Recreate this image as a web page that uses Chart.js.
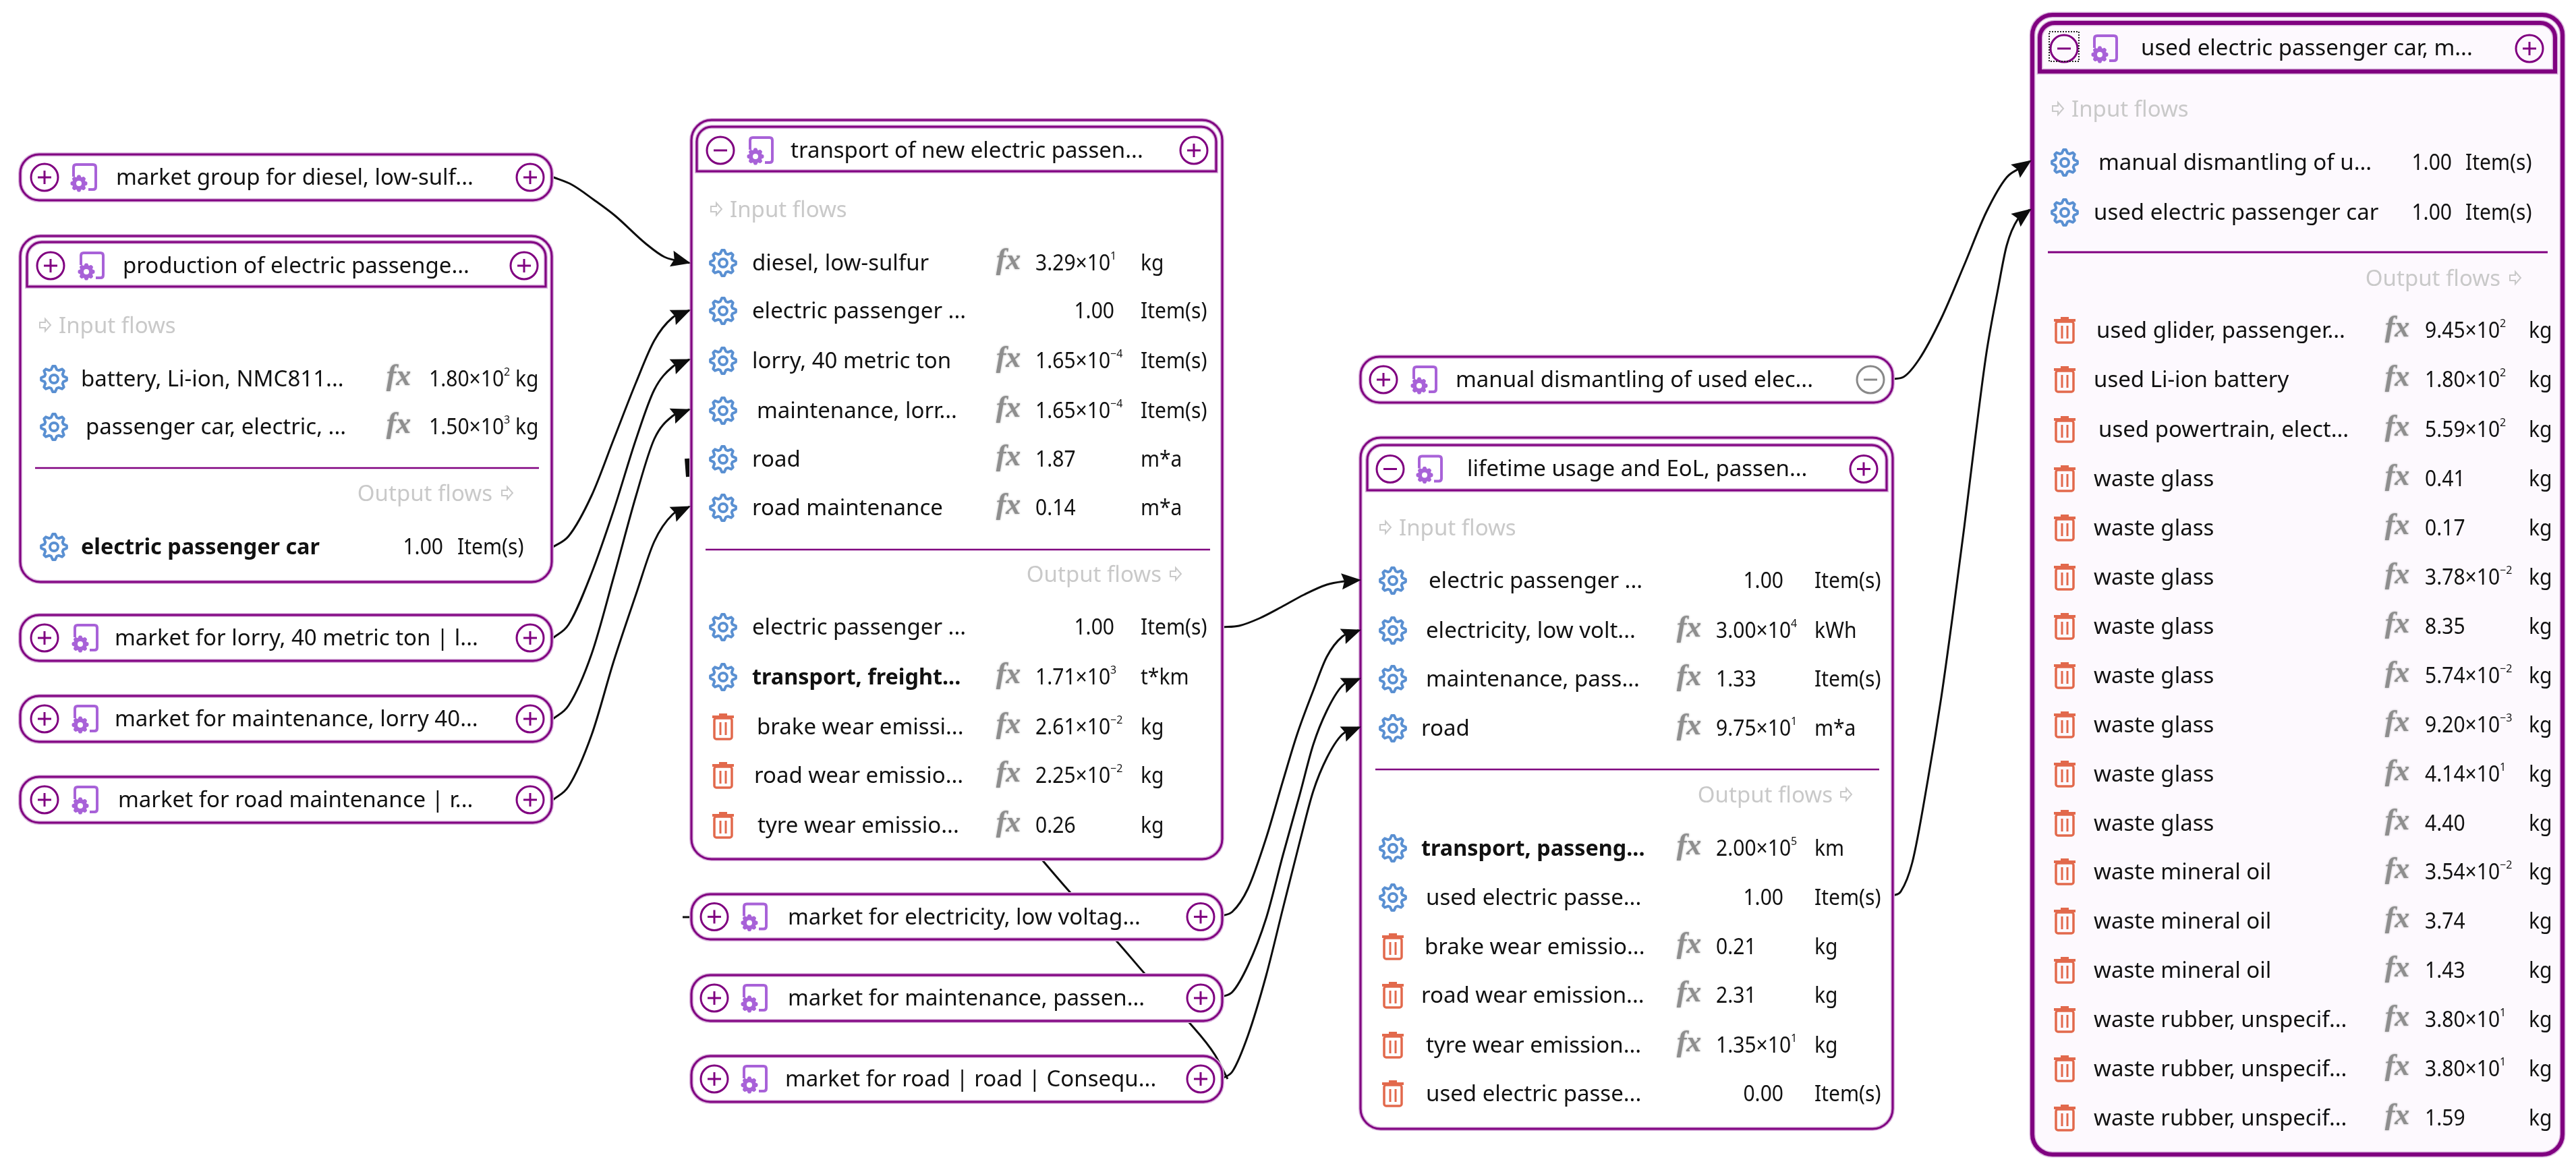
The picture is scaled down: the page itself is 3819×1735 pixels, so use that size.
<!DOCTYPE html>
<html>
<head>
<meta charset="utf-8">
<title>Process graph</title>
<style>
html, body { margin: 0; background: #fff; }
canvas { display: block; }
</style>
<script src="https://cdn.jsdelivr.net/npm/chart.js@4/dist/chart.umd.min.js"></script>
</head>
<body>
<canvas id="graph" width="3819" height="1735"></canvas>
<script>
// collapsed nodes
var marketNames = [
    "market group for diesel, low-sulf...",
    "market for lorry, 40 metric ton | l...",
    "market for maintenance, lorry 40...",
    "market for road maintenance | r...",
    "market for electricity, low voltag...",
    "market for maintenance, passen...",
    "market for road | road | Consequ...",
    "manual dismantling of used elec..."
];

// production of electric passenger car
var productionTitle = "production of electric passenge...";
var productionIn = ["battery, Li-ion, NMC811...", "passenger car, electric, ..."];
var productionInValues = ["1.80×10^2", "1.50×10^3"];
var productionInUnits = ["kg", "kg"];
var productionInFx = [1, 1];
var productionOut = ["electric passenger car"];
var productionOutValues = ["1.00"];
var productionOutUnits = ["Item(s)"];
var productionOutFx = [0];
var productionOutKind = ["main"];

// transport of new electric passenger car
var transportTitle = "transport of new electric passen...";
var transportIn = ["diesel, low-sulfur", "electric passenger ...", "lorry, 40 metric ton", "maintenance, lorr...", "road", "road maintenance"];
var transportInValues = ["3.29×10^1", "1.00", "1.65×10^−4", "1.65×10^−4", "1.87", "0.14"];
var transportInUnits = ["kg", "Item(s)", "Item(s)", "Item(s)", "m*a", "m*a"];
var transportInFx = [1, 0, 1, 1, 1, 1];
var transportOut = ["electric passenger ...", "transport, freight...", "brake wear emissi...", "road wear emissio...", "tyre wear emissio..."];
var transportOutValues = ["1.00", "1.71×10^3", "2.61×10^−2", "2.25×10^−2", "0.26"];
var transportOutUnits = ["Item(s)", "t*km", "kg", "kg", "kg"];
var transportOutFx = [0, 1, 1, 1, 1];
var transportOutKind = ["flow", "main", "waste", "waste", "waste"];

// lifetime usage and EoL
var lifetimeTitle = "lifetime usage and EoL, passen...";
var lifetimeIn = ["electric passenger ...", "electricity, low volt...", "maintenance, pass...", "road"];
var lifetimeInValues = ["1.00", "3.00×10^4", "1.33", "9.75×10^1"];
var lifetimeInUnits = ["Item(s)", "kWh", "Item(s)", "m*a"];
var lifetimeInFx = [0, 1, 1, 1];
var lifetimeOut = ["transport, passeng...", "used electric passe...", "brake wear emissio...", "road wear emission...", "tyre wear emission...", "used electric passe..."];
var lifetimeOutValues = ["2.00×10^5", "1.00", "0.21", "2.31", "1.35×10^1", "0.00"];
var lifetimeOutUnits = ["km", "Item(s)", "kg", "kg", "kg", "Item(s)"];
var lifetimeOutFx = [1, 0, 1, 1, 1, 0];
var lifetimeOutKind = ["main", "flow", "waste", "waste", "waste", "waste"];

// used electric passenger car
var usedTitle = "used electric passenger car, m...";
var usedIn = ["manual dismantling of u...", "used electric passenger car"];
var usedInValues = ["1.00", "1.00"];
var usedInUnits = ["Item(s)", "Item(s)"];
var usedInFx = [0, 0];
var usedOut = ["used glider, passenger...", "used Li-ion battery", "used powertrain, elect...", "waste glass", "waste glass", "waste glass", "waste glass", "waste glass", "waste glass", "waste glass", "waste glass", "waste mineral oil", "waste mineral oil", "waste mineral oil", "waste rubber, unspecif...", "waste rubber, unspecif...", "waste rubber, unspecif..."];
var usedOutValues = ["9.45×10^2", "1.80×10^2", "5.59×10^2", "0.41", "0.17", "3.78×10^−2", "8.35", "5.74×10^−2", "9.20×10^−3", "4.14×10^1", "4.40", "3.54×10^−2", "3.74", "1.43", "3.80×10^1", "3.80×10^1", "1.59"];
var usedOutUnits = ["kg", "kg", "kg", "kg", "kg", "kg", "kg", "kg", "kg", "kg", "kg", "kg", "kg", "kg", "kg", "kg", "kg"];
var usedOutFx = [1, 1, 1, 1, 1, 1, 1, 1, 1, 1, 1, 1, 1, 1, 1, 1, 1];
var usedOutKind = ["waste", "waste", "waste", "waste", "waste", "waste", "waste", "waste", "waste", "waste", "waste", "waste", "waste", "waste", "waste", "waste", "waste"];

// links in graph units
var linkDiesel = [[818,262],[848,274],[880,296],[912,320],[957,361],[985,381],[1023,390]];
var linkProduction = [[820,811],[843,795],[877,735],[910,651],[943,567],[970,505],[997,471],[1023,460]];
var linkLorry = [[820,946],[843,926],[877,850],[910,756],[943,651],[970,578],[997,544],[1023,533]];
var linkLorryMaint = [[820,1066],[843,1046],[877,970],[910,855],[943,735],[970,651],[997,617],[1023,607]];
var linkRoadMaint = [[820,1186],[843,1166],[877,1090],[910,980],[943,881],[970,803],[997,763],[1023,751]];
var linkTransport = [[1812,930],[1837,928],[1867,917],[1900,900],[1933,882],[1967,867],[1993,862],[2017,860]];
var linkElectricity = [[1812,1358],[1827,1352],[1850,1318],[1877,1243],[1902,1158],[1923,1089],[1947,1024],[1967,974],[1990,944],[2017,934]];
var linkCarMaint = [[1812,1478],[1827,1471],[1850,1432],[1877,1362],[1902,1268],[1927,1178],[1947,1104],[1967,1054],[1990,1017],[2017,1006]];
var linkRoad = [[1812,1599],[1827,1589],[1850,1536],[1877,1447],[1902,1347],[1927,1248],[1947,1173],[1967,1124],[1990,1089],[2017,1078]];
var linkManual = [[2807,562],[2822,559],[2845,533],[2878,472],[2912,393],[2945,314],[2975,263],[2995,249],[3011,238]];
var linkUsed = [[2807,1328],[2818,1322],[2835,1279],[2858,1157],[2878,1034],[2895,912],[2912,782],[2928,652],[2945,523],[2962,429],[2975,364],[2992,324],[3011,310]];
var linkHidden = [[1500,1222],[1544,1274],[1589,1326],[1653,1393],[1699,1446],[1761,1514],[1801,1564],[1820,1600]];
var linkStub = [[1012,1360],[1030,1360]];
var linkBlob = [[1019,680],[1021,707]];

var arrowLinks = [linkDiesel, linkProduction, linkLorry, linkLorryMaint, linkRoadMaint, linkTransport, linkElectricity, linkCarMaint, linkRoad, linkManual, linkUsed];
var plainLinks = [linkHidden, linkStub];

// layout of the collapsed nodes: left, top, right, bottom, text x, left knob, right knob, icon
var marketBoxes = [
    [30, 229, 818, 297, 172, 66, 786, 124],
    [30, 912, 818, 980, 170, 66, 786, 126],
    [30, 1032, 818, 1100, 170, 66, 786, 126],
    [30, 1152, 818, 1220, 175, 66, 786, 126],
    [1025, 1326, 1812, 1393, 1168, 1059, 1780, 1118],
    [1025, 1446, 1812, 1514, 1168, 1059, 1780, 1118],
    [1025, 1566, 1812, 1634, 1164, 1059, 1780, 1118],
    [2017, 529, 2806, 597, 2158, 2051, 2773, 2111]
];

var panels = [
    {
        title: productionTitle, box: [30, 350, 818, 863], head: [40, 359, 809, 425], lw: 3,
        knobL: 75, knobR: 777, minus: false, icon: 135, titleX: 182, titleY: 393,
        inHead: [67, 87, 482], outHead: [730, 752, 731], divider: [52, 799, 694],
        symbolX: 80, fxX: 591, valueX: 636, plainEnd: 657, unitX: 764, plainUnit: 678,
        inY: [562, 633], inX: [120, 127], outY: [811], outX: [120],
        names: [productionIn, productionOut], values: [productionInValues, productionOutValues],
        units: [productionInUnits, productionOutUnits], fx: [productionInFx, productionOutFx], kinds: [null, productionOutKind]
    },
    {
        title: transportTitle, box: [1025, 178, 1812, 1274], head: [1033, 188, 1803, 254], lw: 3,
        knobL: 1068, knobR: 1770, minus: true, icon: 1127, titleX: 1172, titleY: 222,
        inHead: [1062, 1082, 310], outHead: [1722, 1743, 851], divider: [1046, 1794, 815],
        symbolX: 1072, fxX: 1495, valueX: 1535, plainEnd: 1652, unitX: 1691, plainUnit: 1691,
        inY: [390, 461, 535, 609, 681, 753], inX: [1115, 1115, 1115, 1122, 1115, 1115],
        outY: [930, 1004, 1078, 1150, 1224], outX: [1115, 1115, 1122, 1118, 1123],
        names: [transportIn, transportOut], values: [transportInValues, transportOutValues],
        units: [transportInUnits, transportOutUnits], fx: [transportInFx, transportOutFx], kinds: [null, transportOutKind]
    },
    {
        title: lifetimeTitle, box: [2017, 649, 2806, 1674], head: [2027, 660, 2797, 727], lw: 3,
        knobL: 2061, knobR: 2763, minus: true, icon: 2119, titleX: 2175, titleY: 694,
        inHead: [2054, 2074, 782], outHead: [2717, 2737, 1178], divider: [2039, 2786, 1141],
        symbolX: 2065, fxX: 2504, valueX: 2544, plainEnd: 2644, unitX: 2690, plainUnit: 2690,
        inY: [861, 935, 1007, 1080], inX: [2118, 2114, 2114, 2107],
        outY: [1258, 1331, 1404, 1476, 1550, 1622], outX: [2107, 2114, 2112, 2107, 2114, 2114],
        names: [lifetimeIn, lifetimeOut], values: [lifetimeInValues, lifetimeOutValues],
        units: [lifetimeInUnits, lifetimeOutUnits], fx: [lifetimeInFx, lifetimeOutFx], kinds: [null, lifetimeOutKind]
    },
    {
        title: usedTitle, box: [3013, 22, 3799, 1712], head: [3024, 34, 3788, 106], lw: 6, fill: "#fdf9fe", focus: [3038, 47, 3082, 91],
        knobL: 3060, knobR: 3750, minus: true, icon: 3120, titleX: 3174, titleY: 70,
        inHead: [3051, 3071, 161], outHead: [3707, 3729, 412], divider: [3036, 3777, 374],
        symbolX: 3061, fxX: 3554, valueX: 3595, plainEnd: 3635, unitX: 3749, plainUnit: 3655,
        inY: [241, 315], inX: [3111, 3104],
        outY: [490, 563, 637, 710, 783, 856, 929, 1002, 1075, 1148, 1221, 1293, 1366, 1439, 1512, 1585, 1658],
        outX: [3108, 3104, 3111, 3104, 3104, 3104, 3104, 3104, 3104, 3104, 3104, 3104, 3104, 3104, 3104, 3104, 3104],
        names: [usedIn, usedOut], values: [usedInValues, usedOutValues],
        units: [usedInUnits, usedOutUnits], fx: [usedInFx, usedOutFx], kinds: [null, usedOutKind]
    }
];

var PURPLE = "#800080";
var HALO = "#d8b4dc";
var ICON_PURPLE = "#a862d8";
var GEAR_BLUE = "#5a90d2";
var TRASH_RED = "#e2694c";
var TEXT = "#111111";
var HEAD_GREY = "#c9c9c9";
var FONT = '"Noto Sans"';
var FONT_SIZE = 33;
var TEXT_DY = 3;
var NUM_SQUEEZE = 0.91;
var BOLD_SQUEEZE = 0.98;

function toPoints(link) {
    return link.map(function (p) { return {x: p[0], y: p[1]}; });
}

function linkDataset(link, width) {
    return {
        data: toPoints(link),
        borderColor: "#0d0d0d",
        borderWidth: width,
        pointRadius: 0,
        cubicInterpolationMode: "monotone",
        fill: false
    };
}

var datasets = arrowLinks.concat(plainLinks).map(function (l) { return linkDataset(l, 3); });
datasets.push(linkDataset(linkBlob, 8));

function drawArrowHeads(chart) {
    var ctx = chart.ctx, sx = chart.scales.x, sy = chart.scales.y;
    ctx.fillStyle = "#0d0d0d";
    arrowLinks.forEach(function (link) {
        var a = link[link.length - 2], b = link[link.length - 1];
        var ang = Math.atan2(sy.getPixelForValue(b[1]) - sy.getPixelForValue(a[1]), sx.getPixelForValue(b[0]) - sx.getPixelForValue(a[0]));
        ctx.save();
        ctx.translate(sx.getPixelForValue(b[0]), sy.getPixelForValue(b[1]));
        ctx.rotate(ang);
        ctx.beginPath();
        ctx.moveTo(1, 0);
        ctx.lineTo(-28, -12);
        ctx.lineTo(-24, 0);
        ctx.lineTo(-28, 12);
        ctx.closePath();
        ctx.fill();
        ctx.restore();
    });
}

function strokeShape(ctx, lw, pathFn, fill) {
    pathFn();
    if (fill) { ctx.fillStyle = fill; ctx.fill(); }
    ctx.strokeStyle = HALO;
    ctx.lineWidth = lw + 3;
    ctx.stroke();
    ctx.strokeStyle = PURPLE;
    ctx.lineWidth = lw;
    ctx.stroke();
}

function drawKnob(ctx, x, y, minus, color) {
    ctx.strokeStyle = color;
    ctx.lineWidth = 3;
    ctx.beginPath();
    ctx.arc(x, y, 20, 0, Math.PI * 2);
    ctx.stroke();
    ctx.beginPath();
    ctx.moveTo(x - 10, y);
    ctx.lineTo(x + 10, y);
    if (!minus) {
        ctx.moveTo(x, y - 10);
        ctx.lineTo(x, y + 10);
    }
    ctx.stroke();
}

function gearPath(ctx, x, y, r) {
    var teeth = 8;
    ctx.beginPath();
    for (var i = 0; i < teeth * 4; i++) {
        var a = i / (teeth * 4) * Math.PI * 2 - Math.PI / 2 - Math.PI / (teeth * 4) * 1;
        var rr = (i % 4 === 0 || i % 4 === 1) ? r : r * 0.76;
        var px = x + Math.cos(a) * rr, py = y + Math.sin(a) * rr;
        if (i === 0) ctx.moveTo(px, py); else ctx.lineTo(px, py);
    }
    ctx.closePath();
}

function drawGear(ctx, x, y) {
    ctx.strokeStyle = GEAR_BLUE;
    ctx.lineWidth = 4;
    ctx.lineJoin = "round";
    gearPath(ctx, x, y, 19);
    ctx.stroke();
    ctx.beginPath();
    ctx.arc(x, y, 6, 0, Math.PI * 2);
    ctx.stroke();
    ctx.lineJoin = "miter";
}

function drawTrash(ctx, x, y) {
    ctx.strokeStyle = TRASH_RED;
    ctx.lineWidth = 3.5;
    ctx.beginPath();
    ctx.roundRect(x - 13, y - 13, 26, 31, 3);
    ctx.stroke();
    ctx.lineWidth = 4;
    ctx.beginPath();
    ctx.moveTo(x - 16, y - 15);
    ctx.lineTo(x + 16, y - 15);
    ctx.moveTo(x - 6, y - 18);
    ctx.lineTo(x + 6, y - 18);
    ctx.stroke();
    ctx.lineWidth = 3;
    ctx.beginPath();
    ctx.moveTo(x - 4, y - 7);
    ctx.lineTo(x - 4, y + 12);
    ctx.moveTo(x + 4, y - 7);
    ctx.lineTo(x + 4, y + 12);
    ctx.stroke();
}

function drawNodeIcon(ctx, x, y) {
    ctx.strokeStyle = ICON_PURPLE;
    ctx.lineWidth = 4;
    ctx.beginPath();
    ctx.moveTo(x - 15, y - 1);
    ctx.lineTo(x - 15, y - 15);
    ctx.quadraticCurveTo(x - 15, y - 19, x - 11, y - 19);
    ctx.lineTo(x + 14, y - 19);
    ctx.quadraticCurveTo(x + 18, y - 19, x + 18, y - 15);
    ctx.lineTo(x + 18, y + 14);
    ctx.quadraticCurveTo(x + 18, y + 18, x + 14, y + 18);
    ctx.lineTo(x + 7, y + 18);
    ctx.stroke();
    ctx.lineWidth = 3;
    ctx.lineJoin = "round";
    gearPath(ctx, x - 7, y + 9, 11);
    ctx.fillStyle = ICON_PURPLE;
    ctx.fill();
    ctx.stroke();
    ctx.lineJoin = "miter";
    ctx.fillStyle = "#ffffff";
    ctx.beginPath();
    ctx.arc(x - 7, y + 9, 4, 0, Math.PI * 2);
    ctx.fill();
}

function drawFlowArrow(ctx, x, y) {
    ctx.strokeStyle = HEAD_GREY;
    ctx.lineWidth = 2;
    ctx.beginPath();
    ctx.moveTo(x - 8, y - 4);
    ctx.lineTo(x, y - 4);
    ctx.lineTo(x, y - 9);
    ctx.lineTo(x + 8, y);
    ctx.lineTo(x, y + 9);
    ctx.lineTo(x, y + 4);
    ctx.lineTo(x - 8, y + 4);
    ctx.closePath();
    ctx.stroke();
}

function text(ctx, str, x, y, weight, color, align, squeeze) {
    ctx.font = (weight || "") + " " + FONT_SIZE + "px " + FONT;
    ctx.fillStyle = color || TEXT;
    ctx.textAlign = align || "left";
    ctx.textBaseline = "middle";
    ctx.fillText(str, x, y + TEXT_DY, ctx.measureText(str).width * (squeeze || 1));
}

function drawValue(ctx, str, x, y) {
    var parts = str.split("^");
    text(ctx, parts[0], x, y, "", TEXT, "left", NUM_SQUEEZE);
    if (parts[1]) {
        ctx.font = FONT_SIZE + "px " + FONT;
        var w = ctx.measureText(parts[0]).width * NUM_SQUEEZE;
        ctx.font = "16px " + FONT;
        ctx.textAlign = "left";
        ctx.fillText(parts[1], x + w, y + TEXT_DY - 12);
    }
}

function drawFx(ctx, x, y) {
    ctx.save();
    ctx.font = 'italic bold 44px "Liberation Serif"';
    ctx.fillStyle = "#8e8e8e";
    ctx.shadowColor = "#b0b0b0";
    ctx.shadowBlur = 3;
    ctx.textAlign = "center";
    ctx.textBaseline = "middle";
    ctx.fillText("fx", x, y - 2);
    ctx.restore();
}

function drawSection(ctx, p, idx, ys, xs) {
    p.names[idx].forEach(function (name, i) {
        var y = ys[i];
        var kind = p.kinds[idx] ? p.kinds[idx][i] : "flow";
        if (kind === "waste") drawTrash(ctx, p.symbolX, y); else drawGear(ctx, p.symbolX, y);
        if (kind === "main") {
            text(ctx, name, xs[i], y - 1, "bold", TEXT, "left", BOLD_SQUEEZE);
        } else {
            text(ctx, name, xs[i], y - 1);
        }
        if (p.fx[idx][i]) {
            drawFx(ctx, p.fxX, y);
            drawValue(ctx, p.values[idx][i], p.valueX, y - 1);
            text(ctx, p.units[idx][i], p.unitX, y - 1, "", TEXT, "left", NUM_SQUEEZE);
        } else {
            text(ctx, p.values[idx][i], p.plainEnd, y - 1, "", TEXT, "right", NUM_SQUEEZE);
            text(ctx, p.units[idx][i], p.plainUnit, y - 1, "", TEXT, "left", NUM_SQUEEZE);
        }
    });
}

function drawPanel(ctx, p) {
    var b = p.box, h = p.head;
    strokeShape(ctx, p.lw, function () {
        ctx.beginPath();
        ctx.roundRect(b[0], b[1], b[2] - b[0], b[3] - b[1], 30);
    }, p.fill || "#ffffff");
    strokeShape(ctx, p.lw, function () {
        ctx.beginPath();
        ctx.roundRect(h[0], h[1], h[2] - h[0], h[3] - h[1], [22, 22, 0, 0]);
    });
    var midY = (h[1] + h[3]) / 2 + 2;
    drawKnob(ctx, p.knobL, midY, p.minus, PURPLE);
    drawKnob(ctx, p.knobR, midY, false, PURPLE);
    drawNodeIcon(ctx, p.icon, midY);
    text(ctx, p.title, p.titleX, p.titleY);
    if (p.focus) {
        ctx.save();
        ctx.strokeStyle = "#222222";
        ctx.lineWidth = 2;
        ctx.setLineDash([2, 2]);
        ctx.strokeRect(p.focus[0], p.focus[1], p.focus[2] - p.focus[0], p.focus[3] - p.focus[1]);
        ctx.restore();
    }
    drawFlowArrow(ctx, p.inHead[0], p.inHead[2]);
    text(ctx, "Input flows", p.inHead[1], p.inHead[2], "", HEAD_GREY);
    text(ctx, "Output flows", p.outHead[0], p.outHead[2], "", HEAD_GREY, "right");
    drawFlowArrow(ctx, p.outHead[1], p.outHead[2]);
    drawSection(ctx, p, 0, p.inY, p.inX);
    ctx.strokeStyle = PURPLE;
    ctx.lineWidth = p.lw > 3 ? 3 : 2.5;
    ctx.beginPath();
    ctx.moveTo(p.divider[0], p.divider[2]);
    ctx.lineTo(p.divider[1], p.divider[2]);
    ctx.stroke();
    drawSection(ctx, p, 1, p.outY, p.outX);
}

function drawMarket(ctx, name, m, last) {
    strokeShape(ctx, 3, function () {
        ctx.beginPath();
        ctx.roundRect(m[0], m[1], m[2] - m[0], m[3] - m[1], 28);
    }, "#ffffff");
    var midY = (m[1] + m[3]) / 2;
    drawKnob(ctx, m[5], midY, false, PURPLE);
    if (last) drawKnob(ctx, m[6], midY, true, "#888888"); else drawKnob(ctx, m[6], midY, false, PURPLE);
    drawNodeIcon(ctx, m[7], midY);
    text(ctx, name, m[4], midY - 1);
}

var graphPlugin = {
    id: "graphNodes",
    afterDatasetsDraw: function (chart) {
        var ctx = chart.ctx;
        ctx.save();
        marketNames.forEach(function (name, i) {
            drawMarket(ctx, name, marketBoxes[i], i === marketNames.length - 1);
        });
        panels.forEach(function (p) { drawPanel(ctx, p); });
        drawArrowHeads(chart);
        ctx.restore();
    }
};

var ctx = document.getElementById("graph").getContext("2d");
new Chart(ctx, {
    type: "line",
    data: { datasets: datasets },
    options: {
        responsive: false,
        devicePixelRatio: 1,
        animation: false,
        layout: { padding: 0 },
        scales: {
            x: { type: "linear", min: 0, max: 3819, display: false },
            y: { type: "linear", min: 0, max: 1735, reverse: true, display: false }
        },
        plugins: {
            legend: { display: false },
            title: { display: false },
            tooltip: { enabled: false }
        }
    },
    plugins: [graphPlugin]
});
</script>
</body>
</html>
